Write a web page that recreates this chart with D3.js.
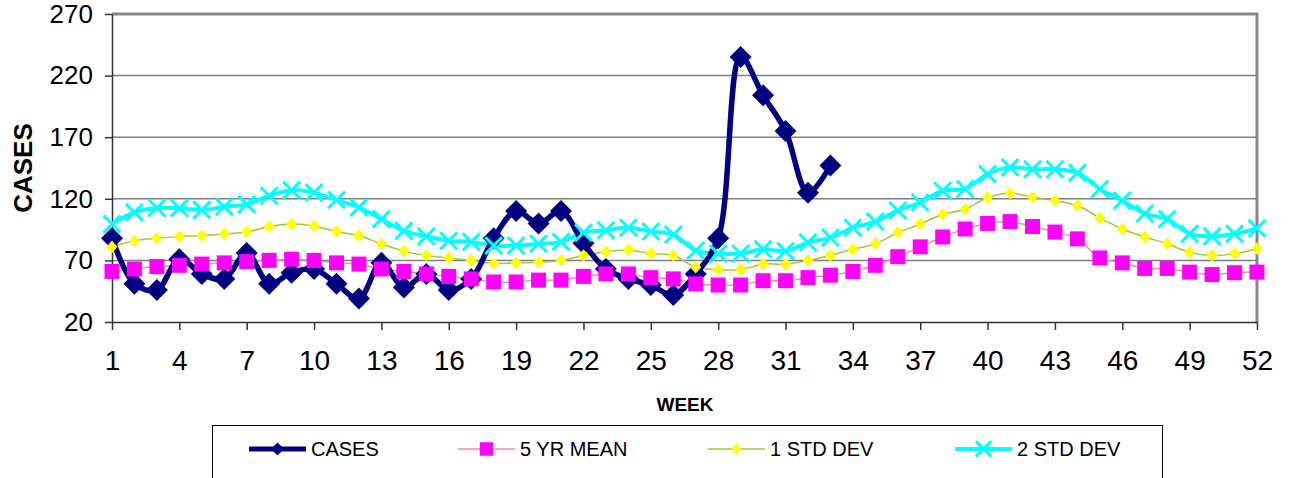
<!DOCTYPE html>
<html>
<head>
<meta charset="utf-8">
<script src="https://cdn.jsdelivr.net/npm/d3@7"></script>
<style>
    body { margin: 0; background: #fff; }
    text { font-family: "Liberation Sans", Arial, sans-serif; fill: #000; }
</style>
</head>
<body>
<svg id="chart" width="1290" height="478"></svg>
<script>
// weekly counts
let weeks = d3.range(1, 53)
let cases = [88, 51, 46, 71, 59, 55, 76, 51, 60, 63, 51, 39, 68, 48, 59, 46, 55, 88, 110, 100,
    110, 84, 63, 55, 50, 42, 59, 88, 235, 204, 175, 125, 147]
let mean5yr = [61, 63, 65, 66, 67, 68, 69, 70, 71, 70, 68, 67, 63, 61, 59, 57, 55, 52.5, 52.5, 54,
    54, 57, 59, 59, 56, 55, 51, 50, 50, 53.5, 53.5, 56, 58, 61, 66, 73, 81, 89, 95.5, 100,
    101.5, 97.5, 93, 87.5, 72, 68, 63.5, 63.5, 60.5, 58.5, 60, 60.5]
let stdDev1 = [81, 86, 88, 89.5, 90, 91.5, 93, 97.5, 99.5, 98, 93.5, 90, 83.5, 77.5, 74, 72, 70, 67.5, 68, 68.5,
    70, 74, 77, 78.5, 75.5, 74, 64.5, 62.5, 62.5, 67, 67, 70, 74, 79, 83.5, 92.5, 99.5, 107.5, 111.5, 121,
    124.5, 121.5, 118.5, 114.5, 104.5, 95.5, 89, 83.5, 76.5, 74, 75.5, 79.5]
let stdDev2 = [99.5, 109, 112.5, 112.5, 111, 113.5, 115.5, 122.5, 127, 125, 119, 113, 103.5, 94, 89.5, 86, 85, 82, 82, 83.5,
    85, 92.5, 94.5, 96.5, 93.5, 91, 78, 75.5, 75.5, 79, 77.5, 84.5, 88.5, 96.5, 101.5, 110.5, 117, 126.5, 128, 140,
    145.5, 144, 144, 141, 128, 118.5, 108, 103.5, 91.5, 89.5, 91.5, 96]
let xTicks = d3.range(1, 53, 3)
let yTicks = [20, 70, 120, 170, 220, 270]

let svg = d3.select("#chart")
let margin = { left: 112, top: 14, right: 1257, bottom: 322 }

let xScale = d3.scaleLinear().domain([1, 52]).range([margin.left, margin.right])
let yScale = d3.scaleLinear().domain([20, 270]).range([margin.bottom, margin.top])

// gridlines
svg.append("g")
    .selectAll("line")
    .data(yTicks.filter(d => d > 20 && d < 270))
    .enter().append("line")
        .attr("x1", margin.left).attr("x2", margin.right)
        .attr("y1", d => yScale(d)).attr("y2", d => yScale(d))
        .style("stroke", "#808080")
        .style("stroke-width", 1.5)

// plot area frame (top + right)
svg.append("path")
    .attr("d", `M${margin.left},${margin.top}H${margin.right}V${margin.bottom}`)
    .style("fill", "none")
    .style("stroke", "#888")
    .style("stroke-width", 3)

let xAxis = d3.axisBottom(xScale)
    .tickValues(xTicks)
    .tickSize(8)
    .tickSizeOuter(0)
    .tickPadding(20)

let yAxis = d3.axisLeft(yScale)
    .tickValues(yTicks)
    .tickSize(7)
    .tickSizeOuter(0)
    .tickPadding(12)

let gX = svg.append("g")
    .attr("transform", "translate(0," + margin.bottom + ")")
    .call(xAxis)
gX.selectAll("text").style("font-size", "28px")

let gY = svg.append("g")
    .attr("transform", "translate(" + margin.left + ",0)")
    .call(yAxis)
gY.selectAll("text").style("font-size", "26px")

svg.selectAll(".domain, .tick line")
    .style("stroke", "#333")
    .style("stroke-width", 1.5)

svg.append("text")
    .attr("transform", "translate(32,168) rotate(-90)")
    .style("text-anchor", "middle")
    .style("font-size", "26px")
    .style("font-weight", "bold")
    .text("CASES")

svg.append("text")
    .attr("x", 685)
    .attr("y", 411)
    .style("text-anchor", "middle")
    .style("font-size", "19px")
    .style("font-weight", "bold")
    .text("WEEK")

let series = [
    { name: "CASES", values: cases, line: "#000080", width: 5.5, marker: "diamond", fill: "#000080", size: 11 },
    { name: "5 YR MEAN", values: mean5yr, line: "#ff8c8c", width: 1.5, marker: "square", fill: "#ff00ff", size: 7.5 },
    { name: "1 STD DEV", values: stdDev1, line: "#a4c639", width: 1.5, marker: "diamond", fill: "#ffff00", size: 5.5 },
    { name: "2 STD DEV", values: stdDev2, line: "#00ffff", width: 4, marker: "x", fill: "#00ffff", size: 8.5 }
]

let line = d3.line()
    .x((d, i) => xScale(weeks[i]))
    .y(d => yScale(d))
    .curve(d3.curveCatmullRom.alpha(0.5))

function markerPath(type, s) {
    if (type == "diamond") return `M0,${-s * 1.15}L${s},0L0,${s * 1.15}L${-s},0Z`
    if (type == "square") return `M${-s},${-s}H${s}V${s}H${-s}Z`
    return `M${-s},${-s}L${s},${s}M${-s},${s}L${s},${-s}`
}

function drawMarker(g, s, x, y, scale) {
    let sz = s.size * scale
    let p = g.append("path")
        .attr("transform", "translate(" + x + "," + y + ")")
        .attr("d", s.name == "CASES" ? `M0,${-sz}L${sz},0L0,${sz}L${-sz},0Z` : markerPath(s.marker, sz))
    if (s.marker == "x")
        p.style("fill", "none").style("stroke", s.fill).style("stroke-width", 3)
    else
        p.style("fill", s.fill)
}

// lines first (last series underneath), then markers in series order
series.slice().reverse().forEach(s => {
    svg.append("path")
        .datum(s.values)
        .attr("d", line)
        .style("fill", "none")
        .style("stroke", s.line)
        .style("stroke-width", s.width)
        .style("stroke-linejoin", "round")
})

series.forEach(s => {
    let g = svg.append("g")
    s.values.forEach((v, i) => drawMarker(g, s, xScale(weeks[i]), yScale(v), 1))
})

// legend
let legend = svg.append("g")
legend.append("rect")
    .attr("x", 212.5).attr("y", 425.5)
    .attr("width", 950).attr("height", 80)
    .style("fill", "#fff")
    .style("stroke", "#000")
    .style("stroke-width", 1)

let legendX = [249, 458, 708, 955]
series.forEach((s, i) => {
    let x0 = legendX[i]
    let g = legend.append("g")
    g.append("line")
        .attr("x1", x0).attr("x2", x0 + 57)
        .attr("y1", 449).attr("y2", 449)
        .style("stroke", s.line)
        .style("stroke-width", s.name == "CASES" ? 5 : s.width)
    drawMarker(g, s, x0 + 28.5, 449, s.name == "CASES" ? 0.6 : 0.9)
    g.append("text")
        .attr("x", x0 + 62)
        .attr("y", 456)
        .style("font-size", "20px")
        .text(s.name)
})
</script>
</body>
</html>
